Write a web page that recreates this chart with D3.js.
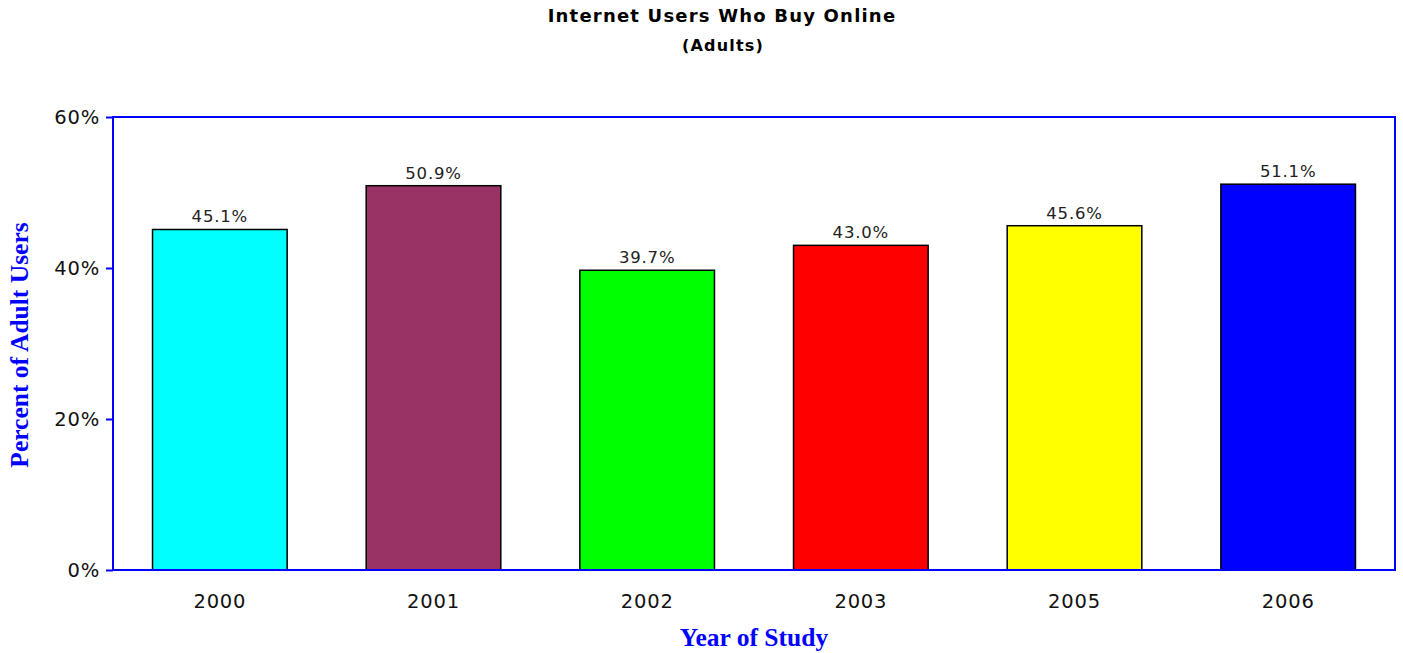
<!DOCTYPE html>
<html>
<head>
<meta charset="utf-8">
<style>
body { margin: 0; background: #fff; }
svg { display: block; }
.tick text { font-family: "DejaVu Sans", Verdana, sans-serif; font-size: 19.5px; letter-spacing: 0.8px; fill: #111; }
.title { font-family: "DejaVu Sans", Verdana, sans-serif; font-weight: bold; fill: #000; }
.axisTitle { font-family: "Liberation Serif", "Times New Roman", serif; font-weight: bold; font-size: 25.5px; fill: #0000ff; }
.label { font-family: "DejaVu Sans", Verdana, sans-serif; font-size: 16.5px; letter-spacing: 0.8px; fill: #222; }
</style>
</head>
<body>
<svg id="svg"></svg>
<script src="https://cdnjs.cloudflare.com/ajax/libs/d3/7.8.5/d3.min.js"></script>
<script>
var years = ["2000", "2001", "2002", "2003", "2005", "2006"]
var values = [45.1, 50.9, 39.7, 43.0, 45.6, 51.1]
var colors = ["#00ffff", "#993366", "#00ff00", "#ff0000", "#ffff00", "#0000ff"]
var yTicks = [0, 20, 40, 60]

var W = 1403, H = 653
var margin = {top: 117, right: 8, bottom: 83, left: 113}
var width = W - margin.left - margin.right,
    height = H - margin.top - margin.bottom

var svg = d3.select("#svg").attr("width", W).attr("height", H)

var x = d3.scaleBand().domain(years).range([0, width]).paddingInner(0.37).paddingOuter(0.185)
var y = d3.scaleLinear().domain([0, 60]).range([height, 0])

var chart = svg.append("g").attr("transform", "translate(" + margin.left + "," + margin.top + ")")

// frame
chart.append("rect")
    .attr("x", 0).attr("y", 0)
    .attr("width", width).attr("height", height)
    .attr("fill", "none").attr("stroke", "#0000ff").attr("stroke-width", 2)

chart.selectAll(".bar")
    .data(values)
    .enter().append("rect")
    .attr("class", "bar")
    .attr("x", (d, i) => x(years[i]))
    .attr("y", d => y(d))
    .attr("width", x.bandwidth())
    .attr("height", d => height - y(d))
    .attr("fill", (d, i) => colors[i])
    .attr("stroke", "#000").attr("stroke-width", 1.5)

chart.selectAll(".label")
    .data(values)
    .enter().append("text")
    .attr("class", "label")
    .attr("x", (d, i) => x(years[i]) + x.bandwidth() / 2)
    .attr("y", d => y(d) - 7)
    .attr("text-anchor", "middle")
    .text(d => d.toFixed(1) + "%")

// baseline redraw over bars
chart.append("line")
    .attr("x1", 0).attr("x2", width).attr("y1", height).attr("y2", height)
    .attr("stroke", "#0000ff").attr("stroke-width", 2)

var yAxis = d3.axisLeft(y).tickValues(yTicks).tickFormat(d => d + "%").tickSize(7).tickPadding(6)
var ya = chart.append("g").call(yAxis)
ya.select(".domain").remove()
ya.selectAll(".tick line").attr("stroke", "#0000ff").attr("stroke-width", 2)
ya.selectAll(".tick text").attr("dy", "0.35em")

var xAxis = d3.axisBottom(x).tickSize(0).tickPadding(24)
var xa = chart.append("g").attr("transform", "translate(0," + height + ")").call(xAxis)
xa.select(".domain").remove()

svg.append("text").attr("class", "title")
    .attr("x", 722).attr("y", 22).attr("text-anchor", "middle")
    .style("font-size", "18px").style("letter-spacing", "1.2px")
    .text("Internet Users Who Buy Online")
svg.append("text").attr("class", "title")
    .attr("x", 723).attr("y", 51).attr("text-anchor", "middle")
    .style("font-size", "16px").style("letter-spacing", "1.2px")
    .text("(Adults)")

svg.append("text").attr("class", "axisTitle")
    .attr("x", 754).attr("y", 646).attr("text-anchor", "middle")
    .text("Year of Study")
svg.append("text").attr("class", "axisTitle")
    .attr("transform", "translate(28,345) rotate(-90)")
    .attr("text-anchor", "middle")
    .text("Percent of Adult Users")
</script>
</body>
</html>
